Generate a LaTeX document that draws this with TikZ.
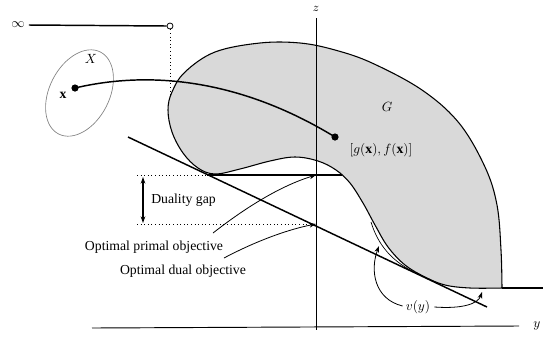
\documentclass[tikz,border=0pt]{standalone}
\usepackage{fontspec}
\setmainfont{Liberation Serif}
\usetikzlibrary{arrows.meta}
\begin{document}
\begin{tikzpicture}[x=0.75pt,y=-0.75pt,
  lbl/.style={font=\fontsize{10.3}{12}\selectfont, inner sep=0pt},
  thickline/.style={line width=1.1pt},
  axis/.style={line width=0.7pt},
  dots/.style={line width=0.7pt, dotted},
  tip/.style={-{Stealth[length=5pt,width=3.5pt]}},
  conn/.style={line width=0.6pt, tip},
  gpath/.style={insert path={plot[smooth, tension=0.6] coordinates {
 (502,288) (470,288) (445,285) (425,277) (405,265) (388,247) (375,225) (363,203)
 (350,183) (336,170) (318,161) (295,157) (270,161) (240,169) (215,174) (198,168)
 (183,153) (172,132) (168,110) (172,92) (185,72) (215,52) (260,43) (300,43)
 (335,50) (372,63) (422,90) (459,123) (485,167) (497,205) (501,250) (502,288)}}}]
\useasboundingbox (0,0) rectangle (543,337);
% set G
\fill[gray!30, gpath];
% axes
\coordinate (zbot) at (316,330);
\coordinate (ztop) at (316,18);
\node[lbl, font=\fontsize{9}{10}\selectfont\itshape] (zl) at (316,9) {$z$};
\draw[axis] (ztop) -- (zbot);
\coordinate (yl0) at (92,328);
\coordinate (yr0) at (519,326);
\node[lbl] (yl) at (537,326) {$y$};
\draw[axis] (yl0) -- (yr0);
% G boundary
\draw[line width=0.8pt, gpath];
\coordinate (vstart) at (502,288);
\coordinate (vend) at (543,288);
\draw[line width=0.8pt] (vstart) -- (vend);
\draw[line width=0.5pt] (371,222) .. controls (378,245) and (392,262) .. (418,274);
% infinity line
\node[lbl] (inf) at (18,25) {$\infty$};
\node[draw, circle, inner sep=0pt, minimum size=4.5pt, fill=white, line width=0.6pt] (oc) at (170,26) {};
\draw[thickline] (inf.east) ++(4,0) coordinate (infs) -- (oc.west);
\coordinate (dotend) at (170,96);
\draw[dots] (oc.south) -- (dotend);
% X set
\draw[gray, line width=0.5pt, rotate around={63:(79.5,93)}] (79.5,93) ellipse [x radius=46, y radius=30];
\node[lbl] (Xl) at (91,59) {$X$};
\fill (75,88) circle (3.6) coordinate (xpt);
\node[lbl] (xl) at (63,95) {$\mathbf{x}$};
\fill (335,137) circle (3.6) coordinate (gpt);
\node[lbl] (gxl) at (381,150) {$[g(\mathbf{x}), f(\mathbf{x})]$};
\node[lbl] (Gl) at (387,107) {$G$};
\draw[thickline] (xpt) .. controls (160,68) and (250,85) .. (gpt);
% levels
\coordinate (pl) at (137,175);
\coordinate (pm) at (207,175);
\coordinate (pz) at (316,175);
\coordinate (pr) at (342,175);
\coordinate (dl) at (137,224);
\coordinate (dz) at (316,224);
\draw[dots] (pl) -- (pm);
\draw[line width=0.9pt] (pm) -- (pr);
\draw[dots] (dl) -- (dz);
% supporting line
\coordinate (ts) at (128,137);
\coordinate (te) at (487,307);
\draw[thickline] (ts) -- (te);
% duality gap
\coordinate (ga) at (143,177);
\coordinate (gb) at (143,223);
\draw[line width=0.8pt, {Stealth[length=5pt,width=3.5pt]}-{Stealth[length=5pt,width=3.5pt]}] (ga) -- (gb);
\node[lbl, anchor=west] (dg) at (151,200) {Duality gap};
% labels with arrows
\node[lbl] (prim) at (154,247) {Optimal primal objective};
\node[lbl] (dual) at (183,271) {Optimal dual objective};
\coordinate (pa) at (213,233);
\coordinate (da) at (224,258);
\draw[conn] (pa) .. controls (245,208) and (280,186) .. (pz);
\draw[conn] (da) .. controls (258,240) and (290,229) .. (dz);
% v(y)
\node[lbl] (vy) at (418,307) {$v(y)$};
\coordinate (va) at (379,246);
\coordinate (vb) at (482,292);
\draw[conn] (vy.west) ++(-3,-1) .. controls (374,299) and (370,270) .. (va);
\draw[conn] (vy.east) ++(4,0) .. controls (462,309) and (478,304) .. (vb);
\end{tikzpicture}
\end{document}
